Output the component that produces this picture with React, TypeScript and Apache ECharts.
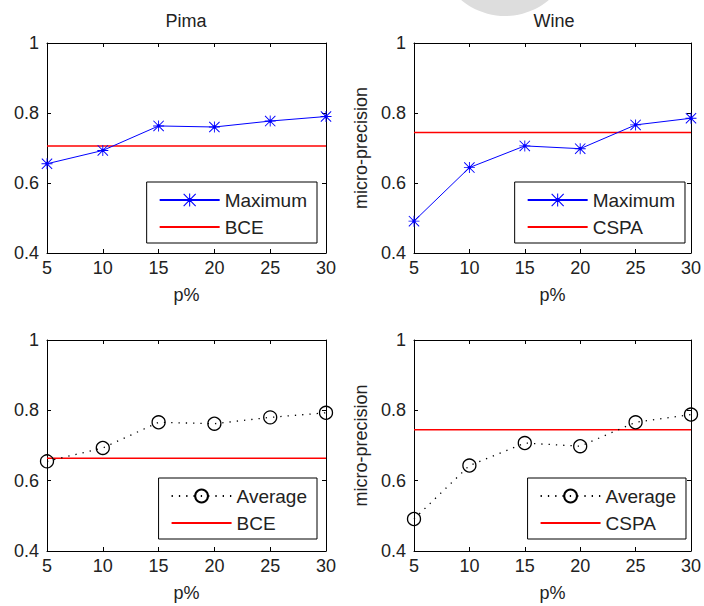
import React, { useEffect, useRef } from 'react';
import * as echarts from 'echarts';

// ---- data ----
const pValues = [5, 10, 15, 20, 25, 30];
const yTicks = [0.4, 0.6, 0.8, 1];

const pimaMaximum = [0.655, 0.693, 0.763, 0.76, 0.777, 0.79];
const pimaBCEMax = 0.706;
const wineMaximum = [0.491, 0.644, 0.706, 0.698, 0.766, 0.785];
const wineCSPAMax = 0.744;

const pimaAverage = [0.655, 0.693, 0.766, 0.762, 0.78, 0.793];
const pimaBCEAvg = 0.664;
const wineAverage = [0.491, 0.643, 0.707, 0.698, 0.766, 0.788];
const wineCSPAAvg = 0.745;

const panelTitles = ['Pima', 'Wine'];
const xName = 'p%';
const yName = 'micro-precision';

const FONT = '"Liberation Sans", Arial, Helvetica, sans-serif';
const TXT = '#222';
const starPath =
  'path://M9.2,0L10.8,0L10.8,20L9.2,20Z M0,9.2L20,9.2L20,10.8L0,10.8Z M1.2,0L20,18.8L18.8,20L0,1.2Z M18.8,0L20,1.2L1.2,20L0,18.8Z M7,7L13,7L13,13L7,13Z';

const grids = [
  { left: 47, top: 43, width: 279, height: 210 },
  { left: 414, top: 43, width: 281, height: 210 },
  { left: 47, top: 340, width: 279, height: 211 },
  { left: 414, top: 340, width: 281, height: 211 },
];

function pairs(vals: number[]) {
  return pValues.map((p, i) => [p, vals[i]]);
}
function flat(v: number) {
  return [
    [pValues[0], v],
    [pValues[pValues.length - 1], v],
  ];
}

export default function App() {
  const ref = useRef<HTMLDivElement>(null);
  useEffect(() => {
    if (!ref.current) return;
    const chart = echarts.init(ref.current, null, { renderer: 'svg' });

    const axisLine = { show: true, lineStyle: { color: '#000', width: 1 } };
    const axisTick = { show: true, inside: true, length: 4, lineStyle: { color: '#000', width: 1 } };
    const labelStyle = { fontSize: 18, color: TXT, fontFamily: FONT };

    const xAxis: any[] = [];
    const yAxis: any[] = [];
    grids.forEach((_, i) => {
      xAxis.push({
        type: 'value', gridIndex: i, position: 'bottom', min: pValues[0], max: pValues[pValues.length - 1], interval: 5,
        axisLine, axisTick, splitLine: { show: false },
        axisLabel: { ...labelStyle, margin: 6 },
        name: xName, nameLocation: 'middle', nameGap: 33,
        nameTextStyle: { ...labelStyle },
      });
      xAxis.push({
        type: 'value', gridIndex: i, position: 'top', min: pValues[0], max: pValues[pValues.length - 1], interval: 5,
        axisLine, axisTick, splitLine: { show: false }, axisLabel: { show: false },
      });
      yAxis.push({
        type: 'value', gridIndex: i, position: 'left', min: yTicks[0], max: yTicks[yTicks.length - 1], interval: 0.2,
        axisLine, axisTick, splitLine: { show: false },
        axisLabel: { ...labelStyle, margin: 8, formatter: (v: number) => String(+v.toFixed(1)) },
        ...(i % 2 === 1
          ? { name: yName, nameLocation: 'middle', nameGap: 44, nameTextStyle: { ...labelStyle } }
          : {}),
      });
      yAxis.push({
        type: 'value', gridIndex: i, position: 'right', min: yTicks[0], max: yTicks[yTicks.length - 1], interval: 0.2,
        axisLine, axisTick, splitLine: { show: false }, axisLabel: { show: false },
      });
    });

    const maxSeries = (name: string, data: number[], gi: number) => ({
      name, type: 'line', xAxisIndex: gi * 2, yAxisIndex: gi * 2, data: pairs(data),
      symbol: starPath, symbolSize: 11,
      itemStyle: { color: '#0000ff' }, lineStyle: { color: '#0000ff', width: 1 },
      z: 3,
    });
    const avgSeries = (name: string, data: number[], gi: number) => ({
      name, type: 'line', xAxisIndex: gi * 2, yAxisIndex: gi * 2, data: pairs(data),
      symbol: 'circle', symbolSize: 13,
      itemStyle: { color: 'rgba(255,255,255,0)', borderColor: '#000', borderWidth: 1.3 },
      lineStyle: { color: '#000', width: 1.3, type: [1.3, 6] },
      z: 3,
    });
    const refSeries = (name: string, v: number, gi: number) => ({
      name, type: 'line', xAxisIndex: gi * 2, yAxisIndex: gi * 2, data: flat(v),
      symbol: 'none', lineStyle: { color: '#ff0000', width: 1.5 }, itemStyle: { color: '#ff0000' },
      z: 2,
    });

    const legendBase = {
      orient: 'vertical', selectedMode: false, itemWidth: 60, itemHeight: 16, itemGap: 7,
      padding: [8, 10, 6, 12], borderColor: '#000', borderWidth: 1, backgroundColor: '#fff',
      textStyle: { fontSize: 19, color: TXT, fontFamily: FONT, lineHeight: 20 },
    };
    const lineOnly = (name: string) => ({ name, itemStyle: { opacity: 0 } });

    chart.setOption({
      animation: false,
      backgroundColor: '#fff',
      grid: grids.map((g) => ({ ...g, containLabel: false })),
      xAxis,
      yAxis,
      legend: [
        { ...legendBase, right: 387, top: 182, data: ['Maximum', lineOnly('BCE')] },
        { ...legendBase, right: 19, top: 182, data: ['Maximum', lineOnly('CSPA')] },
        { ...legendBase, right: 387, top: 478, data: ['Average', lineOnly('BCE')] },
        { ...legendBase, right: 18, top: 478, data: ['Average', lineOnly('CSPA')] },
      ],
      graphic: [
        { type: 'circle', shape: { cx: 505, cy: -52, r: 68 }, style: { fill: '#dddddd' }, z: -1, silent: true },
        {
          type: 'text', x: 186, y: 21,
          style: { text: panelTitles[0], align: 'center', verticalAlign: 'middle', font: `18px ${FONT}`, fill: TXT },
        },
        {
          type: 'text', x: 554, y: 21,
          style: { text: panelTitles[1], align: 'center', verticalAlign: 'middle', font: `18px ${FONT}`, fill: TXT },
        },
      ],
      series: [
        maxSeries('Maximum', pimaMaximum, 0),
        refSeries('BCE', pimaBCEMax, 0),
        maxSeries('Maximum', wineMaximum, 1),
        refSeries('CSPA', wineCSPAMax, 1),
        avgSeries('Average', pimaAverage, 2),
        refSeries('BCE', pimaBCEAvg, 2),
        avgSeries('Average', wineAverage, 3),
        refSeries('CSPA', wineCSPAAvg, 3),
      ],
    });
    return () => chart.dispose();
  }, []);

  return (
    <div
      ref={ref}
      style={{ position: 'fixed', left: 0, top: 0, width: 704, height: 606, background: '#fff' }}
    />
  );
}
